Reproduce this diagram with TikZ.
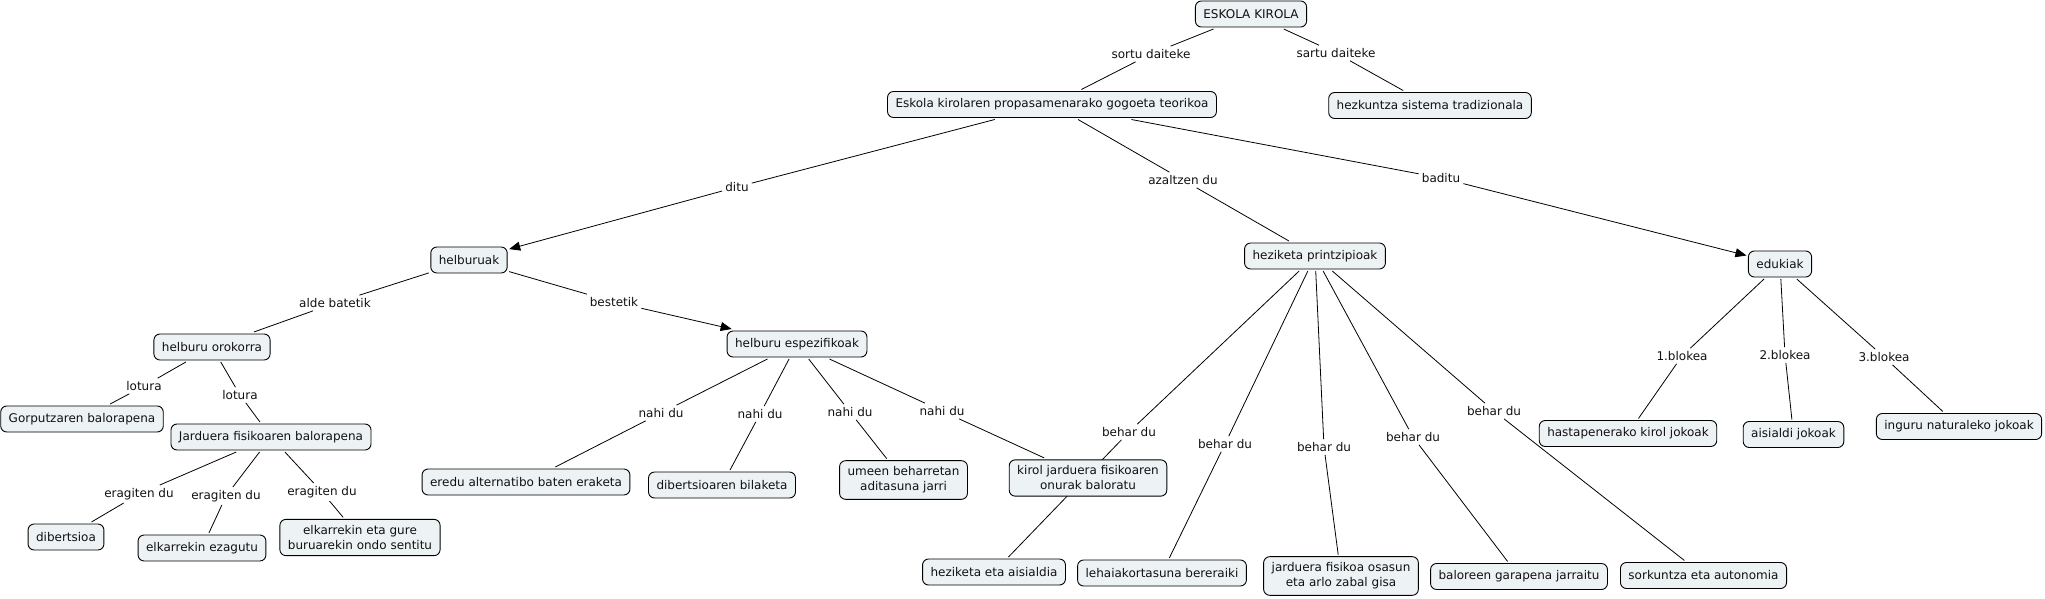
\documentclass[tikz,border=0pt]{standalone}
\usepackage{fontspec}
\setmainfont{DejaVu Sans}
\usetikzlibrary{arrows.meta}
\definecolor{cfill}{HTML}{EDF2F4}
\definecolor{txt}{HTML}{111111}
\pgfdeclarelayer{bg}
\pgfsetlayers{bg,main}
\begin{document}
\begin{tikzpicture}[x=1pt,y=-1pt,
  concept/.style={draw=black, line width=0.9pt, rounded corners=6pt, fill=cfill,
    inner xsep=8pt, inner ysep=6pt, minimum height=26pt, align=center,
    font=\fontsize{12pt}{15pt}\selectfont, text=txt, outer sep=2pt},
  lbl/.style={inner sep=3pt, font=\fontsize{12pt}{15pt}\selectfont, text=txt},
  link/.style={draw=black, line width=0.8pt},
  arr/.style={link, -{Triangle[length=11pt,width=9pt]}}]
\useasboundingbox (0,0) rectangle (2045,599);

% concepts
\node[concept] (top) at (1251,14) {ESKOLA KIROLA};
\node[concept] (eskola) at (1052,104.5) {Eskola kirolaren propasamenarako gogoeta teorikoa};
\node[concept] (hezk) at (1430,105.5) {hezkuntza sistema tradizionala};
\node[concept] (helb) at (469,260) {helburuak};
\node[concept] (hezi) at (1315,256) {heziketa printzipioak};
\node[concept] (eduk) at (1780,264) {edukiak};
\node[concept] (horo) at (212,347) {helburu orokorra};
\node[concept] (hesp) at (797,344) {helburu espezifikoak};
\node[concept] (gorp) at (82,419) {Gorputzaren balorapena};
\node[concept] (jard) at (271,437) {Jarduera fisikoaren balorapena};
\node[concept] (dibe) at (66,537) {dibertsioa};
\node[concept] (elkez) at (202,548) {elkarrekin ezagutu};
\node[concept] (elkgure) at (360,537.5) {elkarrekin eta gure\\buruarekin ondo sentitu};
\node[concept] (eredu) at (526,482) {eredu alternatibo baten eraketa};
\node[concept] (dbil) at (722,485) {dibertsioaren bilaketa};
\node[concept] (umeen) at (903.5,480) {umeen beharretan\\aditasuna jarri};
\node[concept] (kirol) at (1088,478) {kirol jarduera fisikoaren\\onurak baloratu};
\node[concept] (hezais) at (994,572) {heziketa eta aisialdia};
\node[concept] (lehai) at (1162,573) {lehaiakortasuna bereraiki};
\node[concept] (jfos) at (1341,576) {jarduera fisikoa osasun\\eta arlo zabal gisa};
\node[concept] (balo) at (1519,576.5) {baloreen garapena jarraitu};
\node[concept] (sork) at (1703.5,575.5) {sorkuntza eta autonomia};
\node[concept] (hast) at (1628,433.5) {hastapenerako kirol jokoak};
\node[concept] (aisi) at (1793.5,434.5) {aisialdi jokoak};
\node[concept] (ingu) at (1959,426.5) {inguru naturaleko jokoak};

% linking phrases
\node[lbl] (l1) at (1151,54) {sortu daiteke};
\node[lbl] (l2) at (1336,53) {sartu daiteke};
\node[lbl] (l3) at (737,187) {ditu};
\node[lbl] (l4) at (1183,180) {azaltzen du};
\node[lbl] (l5) at (1441,178) {baditu};
\node[lbl] (l6) at (335,303) {alde batetik};
\node[lbl] (l7) at (614,302) {bestetik};
\node[lbl] (l8) at (144,386) {lotura};
\node[lbl] (l9) at (240,395) {lotura};
\node[lbl] (l10) at (139,494) {eragiten du};
\node[lbl] (l11) at (226,496) {eragiten du};
\node[lbl] (l12) at (322,492) {eragiten du};
\node[lbl] (l13) at (661,413) {nahi du};
\node[lbl] (l14) at (760,414) {nahi du};
\node[lbl] (l15) at (850,412) {nahi du};
\node[lbl] (l16) at (942,411) {nahi du};
\node[lbl] (l17) at (1129,432) {behar du};
\node[lbl] (l18) at (1225,444) {behar du};
\node[lbl] (l19) at (1324,447) {behar du};
\node[lbl] (l20) at (1413,437) {behar du};
\node[lbl] (l21) at (1494,411) {behar du};
\node[lbl] (l22) at (1682,356) {1.blokea};
\node[lbl] (l23) at (1785,355) {2.blokea};
\node[lbl] (l24) at (1884,357) {3.blokea};

\begin{pgfonlayer}{bg}
\fill[white] (0,0) rectangle (2045,599);
\foreach \a/\b/\c in {top/l1/eskola, top/l2/hezk, eskola/l4/hezi,
  helb/l6/horo, horo/l8/gorp, horo/l9/jard,
  jard/l10/dibe, jard/l11/elkez, jard/l12/elkgure,
  hesp/l13/eredu, hesp/l14/dbil, hesp/l15/umeen, hesp/l16/kirol,
  hezi/l17/hezais, hezi/l18/lehai, hezi/l19/jfos, hezi/l20/balo, hezi/l21/sork,
  eduk/l22/hast, eduk/l23/aisi, eduk/l24/ingu}
  {\draw[link] (\a) -- (\b); \draw[link] (\b) -- (\c);}
\foreach \a/\b/\c in {eskola/l3/helb, eskola/l5/eduk, helb/l7/hesp}
  {\draw[link] (\a) -- (\b); \draw[arr] (\b) -- (\c);}
\end{pgfonlayer}
\end{tikzpicture}
\end{document}
